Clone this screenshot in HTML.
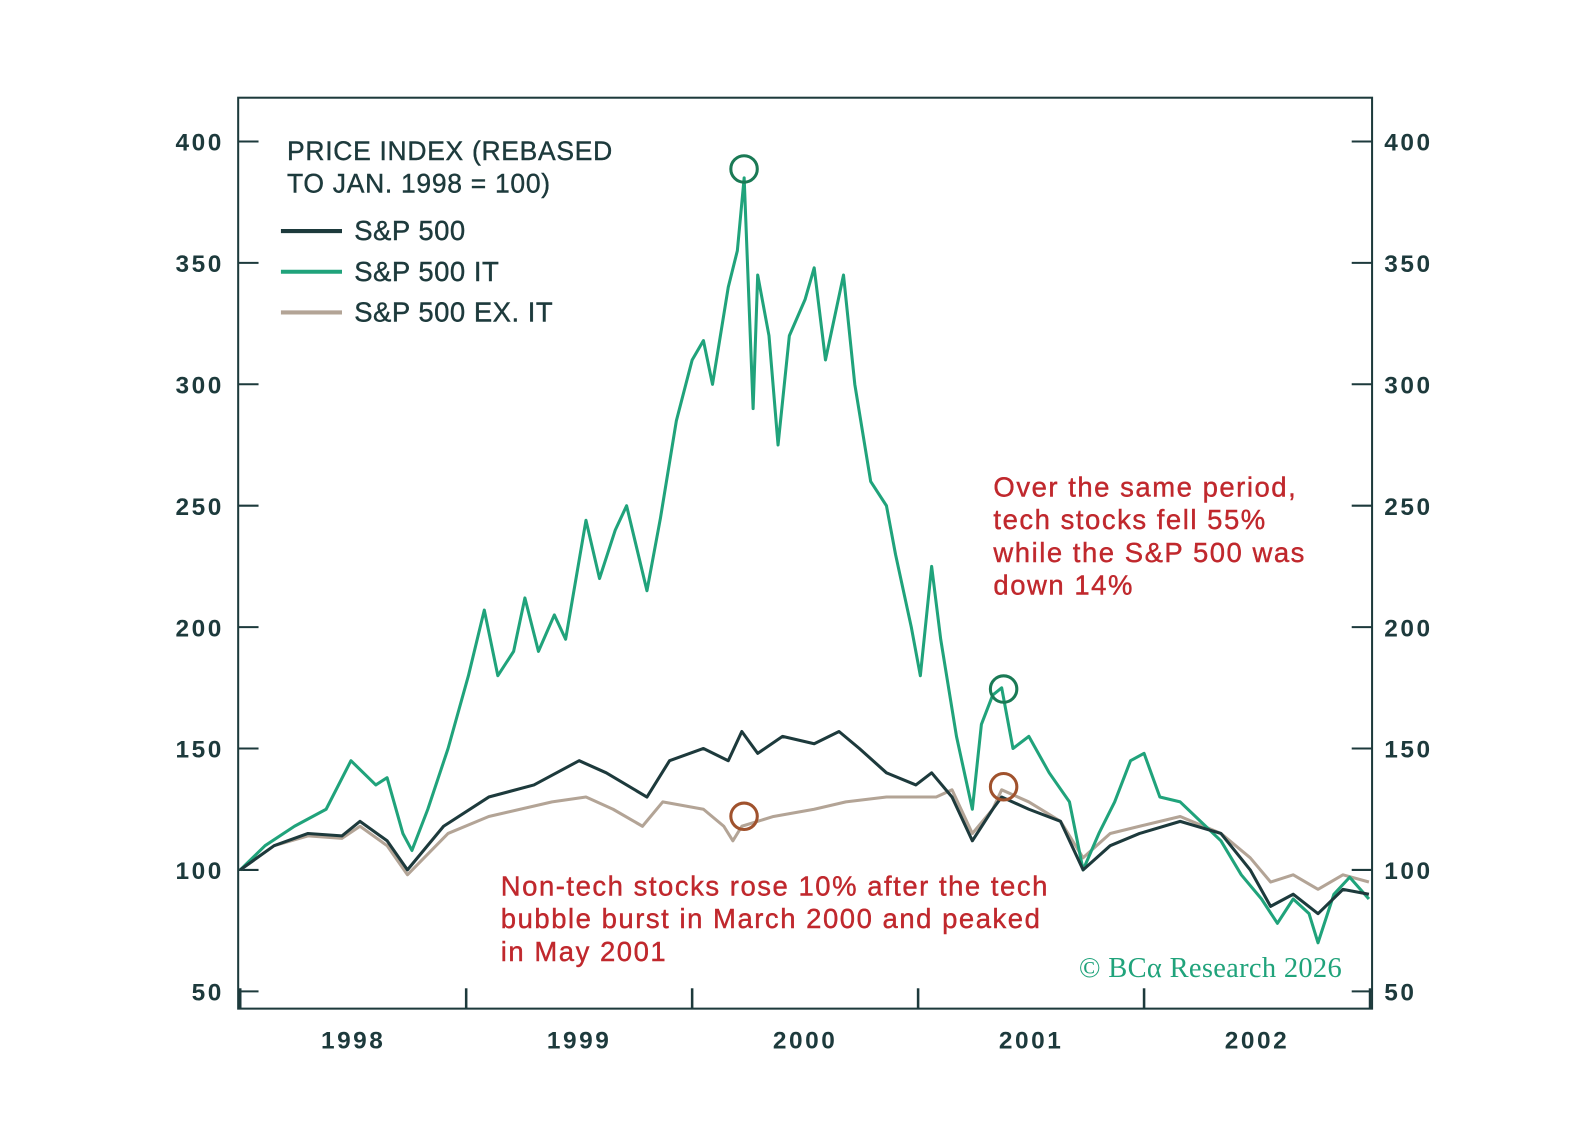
<!DOCTYPE html>
<html><head><meta charset="utf-8"><style>
html,body{margin:0;padding:0;background:#fff;}
svg{display:block;font-family:"Liberation Sans",sans-serif;}
</style></head><body>
<svg id="chart" width="1596" height="1144" viewBox="0 0 1568 1124" preserveAspectRatio="none" xmlns="http://www.w3.org/2000/svg">
<rect width="1568" height="1124" fill="#fff"/>
<g id="axes"></g>
<g id="series"></g>
<g id="legend">
<text x="282" y="157" font-size="26" letter-spacing="0.7" fill="#1d3a3c" stroke="#1d3a3c" stroke-width="0.4">PRICE INDEX (REBASED</text>
<text x="282" y="189" font-size="26" letter-spacing="0.7" fill="#1d3a3c" stroke="#1d3a3c" stroke-width="0.4">TO JAN. 1998 = 100)</text>
<line x1="276" y1="227" x2="336" y2="227" stroke="#1d3a3c" stroke-width="4"/>
<text x="348" y="236" font-size="27" letter-spacing="0.5" fill="#1d3a3c" stroke="#1d3a3c" stroke-width="0.4">S&amp;P 500</text>
<line x1="276" y1="267" x2="336" y2="267" stroke="#20a37b" stroke-width="4"/>
<text x="348" y="276" font-size="27" letter-spacing="0.5" fill="#1d3a3c" stroke="#1d3a3c" stroke-width="0.4">S&amp;P 500 IT</text>
<line x1="276" y1="307" x2="336" y2="307" stroke="#b3a496" stroke-width="4"/>
<text x="348" y="316" font-size="27" letter-spacing="0.5" fill="#1d3a3c" stroke="#1d3a3c" stroke-width="0.4">S&amp;P 500 EX. IT</text>
</g>
<g font-size="27" letter-spacing="1.5" fill="#c0282d" stroke="#c0282d" stroke-width="0.4">
<text x="976" y="488">Over the same period,</text>
<text x="976" y="520">tech stocks fell 55%</text>
<text x="976" y="552">while the S&amp;P 500 was</text>
<text x="976" y="584">down 14%</text>
</g>
<g font-size="27" letter-spacing="1.5" fill="#c0282d" stroke="#c0282d" stroke-width="0.4">
<text x="492" y="880">Non-tech stocks rose 10% after the tech</text>
<text x="492" y="912">bubble burst in March 2000 and peaked</text>
<text x="492" y="944">in May 2001</text>
</g>
<text x="1060" y="960" font-family="'Liberation Serif',serif" font-size="28" letter-spacing="0.3" fill="#20a37b">© BCα Research 2026</text>
</svg>
<script>
const yTicks=[50,100,150,200,250,300,350,400];
const xYears=["1998","1999","2000","2001","2002"];
const itDates=[1998.00,1998.11,1998.24,1998.38,1998.49,1998.60,1998.65,1998.72,1998.76,1998.83,1998.92,1999.01,1999.08,1999.14,1999.21,1999.26,1999.32,1999.39,1999.44,1999.53,1999.59,1999.66,1999.71,1999.80,1999.86,1999.93,2000.00,2000.05,2000.09,2000.16,2000.20,2000.23,2000.27,2000.29,2000.34,2000.38,2000.43,2000.50,2000.54,2000.59,2000.67,2000.72,2000.79,2000.86,2000.90,2000.97,2001.01,2001.06,2001.10,2001.17,2001.24,2001.28,2001.33,2001.37,2001.42,2001.49,2001.58,2001.67,2001.73,2001.80,2001.87,2001.94,2002.00,2002.07,2002.16,2002.25,2002.34,2002.43,2002.52,2002.59,2002.66,2002.73,2002.77,2002.84,2002.91,2002.995];
const itValues=[100,110,118,125,145,135,138,115,108,125,150,180,207,180,190,212,190,205,195,244,220,240,250,215,245,285,310,318,300,340,355,385,290,345,320,275,320,335,348,310,345,300,260,250,230,200,180,225,195,155,125,160,172,175,150,155,140,128,100,115,128,145,148,130,128,120,112,98,88,78,88,82,70,90,97,88];
const spDates=[1998.00,1998.15,1998.30,1998.45,1998.53,1998.65,1998.74,1998.90,1999.10,1999.30,1999.50,1999.62,1999.80,1999.90,2000.05,2000.16,2000.22,2000.29,2000.40,2000.54,2000.65,2000.74,2000.86,2000.99,2001.06,2001.15,2001.24,2001.33,2001.37,2001.49,2001.63,2001.73,2001.85,2001.98,2002.16,2002.34,2002.47,2002.56,2002.66,2002.77,2002.88,2002.995];
const spValues=[100,110,115,114,120,112,100,118,130,135,145,140,130,145,150,145,157,148,155,152,157,150,140,135,140,130,112,125,130,125,120,100,110,115,120,115,100,85,90,82,92,90];
const exDates=[1998.00,1998.15,1998.30,1998.45,1998.53,1998.65,1998.74,1998.92,1999.10,1999.38,1999.53,1999.65,1999.78,1999.87,2000.05,2000.14,2000.18,2000.22,2000.36,2000.54,2000.68,2000.86,2001.08,2001.15,2001.24,2001.33,2001.37,2001.49,2001.63,2001.73,2001.85,2001.98,2002.16,2002.34,2002.47,2002.56,2002.66,2002.77,2002.88,2002.995];
const exValues=[100,110,114,113,118,110,98,115,122,128,130,125,118,128,125,118,112,118,122,125,128,130,130,133,115,125,133,128,120,105,115,118,122,115,105,95,98,92,98,95];

const X0=236,X1=1346,Y0=974,Y1=139;
function xs(d){return X0+(d-1998)/5*(X1-X0);}
function ys(v){return Y0-(v-50)/350*(Y0-Y1);}
const NS="http://www.w3.org/2000/svg";
function mk(tag,attrs,parent){const e=document.createElementNS(NS,tag);for(const k in attrs)e.setAttribute(k,attrs[k]);parent.appendChild(e);return e;}
const axes=document.getElementById('axes');
const frame=mk('rect',{x:234,y:96,width:1114,height:895,fill:'none',stroke:'#1d3a3c','stroke-width':2},axes);


yTicks.forEach(v=>{
  const y=ys(v);
  const t1=mk('line',{x1:234,y1:y,x2:254,y2:y,stroke:'#1d3a3c','stroke-width':2},axes);
  
  
  const t2=mk('line',{x1:1328,y1:y,x2:1348,y2:y,stroke:'#1d3a3c','stroke-width':2},axes);
  
  
  const l1=mk('text',{x:220,y:y+9,'text-anchor':'end','font-size':24,'font-weight':'bold','letter-spacing':2.5,fill:'#1d3a3c'},axes);l1.textContent=v;
  
  
  const l2=mk('text',{x:1360,y:y+9,'font-size':24,'font-weight':'bold','letter-spacing':2.5,fill:'#1d3a3c'},axes);l2.textContent=v;
  
  
});
for(let i=0;i<=xYears.length;i++){
  const x=xs(1998+i);
  const t=mk('line',{x1:x,y1:991,x2:x,y2:971,stroke:'#1d3a3c','stroke-width':2.5},axes);
  
  
}
xYears.forEach((yr,i)=>{
  const l=mk('text',{x:xs(1998+i+0.5),y:1030,'text-anchor':'middle','font-size':24,'font-weight':'bold','letter-spacing':2.5,fill:'#1d3a3c'},axes);l.textContent=yr;
  
  
});
const series=document.getElementById('series');
function line(dates,vals,color,name){
  const p=mk('polyline',{points:dates.map((d,i)=>xs(d).toFixed(1)+','+ys(vals[i]).toFixed(1)).join(' '),fill:'none',stroke:color,'stroke-width':3,'stroke-linejoin':'round'},series);
  
  
}
line(exDates,exValues,'#b3a496','line-sp500-ex-it');
line(itDates,itValues,'#20a37b','line-sp500-it');
line(spDates,spValues,'#1d3a3c','line-sp500');
const c1=mk('circle',{cx:731,cy:166,r:13,fill:'none',stroke:'#1a7a55','stroke-width':3},series);


const c2=mk('circle',{cx:986,cy:677,r:13,fill:'none',stroke:'#1a7a55','stroke-width':3},series);


const c3=mk('circle',{cx:731,cy:802,r:13,fill:'none',stroke:'#a0522d','stroke-width':3},series);


const c4=mk('circle',{cx:986,cy:773,r:13,fill:'none',stroke:'#a0522d','stroke-width':3},series);


</script>
</body></html>
